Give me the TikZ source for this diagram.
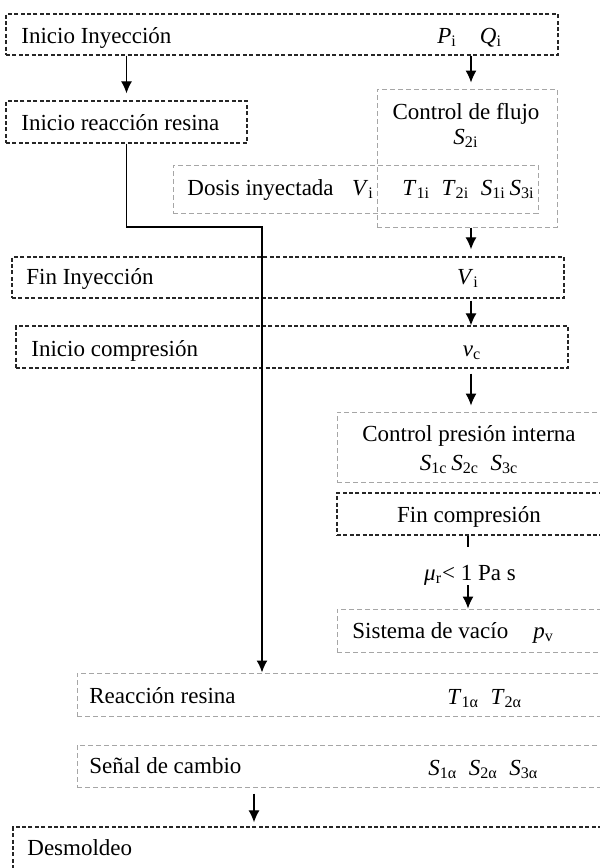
\documentclass[tikz,border=0pt]{standalone}
\usepackage{fontspec}
\setmainfont{Liberation Serif}
\usetikzlibrary{arrows.meta,fit,positioning}
\newcommand{\sym}[2]{\textit{#1}\textsubscript{#2}}
\begin{document}
\begin{tikzpicture}[x=0.5pt,y=-0.5pt,
    darkbox/.style={draw=black!85,line width=0.65pt,dash pattern=on 2pt off 1.2pt,inner sep=0pt},
    greybox/.style={draw=black!35,line width=0.5pt,dash pattern=on 2.5pt off 1.5pt,inner sep=0pt},
    txt/.style={inner sep=0pt,font=\fontsize{11.5}{13}\selectfont},
    arr/.style={-{Latex[length=6pt,width=5.5pt]},line width=0.6pt}]
  \useasboundingbox (0,0) rectangle (600,868);
  \clip (0,0) rectangle (600,868);
  \node[darkbox,fit={(6,14)(558,55)}] (iniiny) {};
  \node[darkbox,fit={(6,101)(247,143)}] (inireac) {};
  \node[greybox,fit={(377,89)(557,227)}] (flujo) {};
  \node[greybox,fit={(173,165)(538,213)}] (dosis) {};
  \node[darkbox,fit={(12,257)(564,298)}] (fininy) {};
  \node[darkbox,fit={(16,326)(568,368)}] (inicomp) {};
  \node[greybox,fit={(337,412)(612,482)}] (presion) {};
  \node[darkbox,fit={(337,493)(612,535)}] (fincomp) {};
  \node[greybox,fit={(337,609)(612,652)}] (vacio) {};
  \node[greybox,fit={(77,673)(612,716)}] (reac) {};
  \node[greybox,fit={(77,745)(612,787)}] (senal) {};
  \node[darkbox,fit={(13,827)(612,890)}] (desm) {};
  \node[txt,anchor=base west] (tIniIny) at (21,43) {Inicio Inyección};
  \node[txt,anchor=base west] (tPQ) at (437,43) {\sym{P}{i}\quad\sym{Q}{i}};
  \node[txt,anchor=base west] (tIniReac) at (21,130) {Inicio reacción resina};
  \node[txt,anchor=base] (tFlujo) at (466,119) {Control de flujo};
  \node[txt,anchor=base] (tS2i) at (466,144) {\sym{S}{2i}};
  \node[txt,anchor=base west] (tDosis) at (187,195) {Dosis inyectada\hspace{0.8em}\sym{V}{i}};
  \node[txt,anchor=base west] (tTSi) at (402,195) {\sym{T}{1i}\enspace\sym{T}{2i}\enspace\sym{S}{1i}\,\sym{S}{3i}};
  \node[txt,anchor=base west] (tFinIny) at (26,284) {Fin Inyección};
  \node[txt,anchor=base] (tVi) at (468,284) {\sym{V}{i}};
  \node[txt,anchor=base west] (tIniComp) at (31,356) {Inicio compresión};
  \node[txt,anchor=base] (tvc) at (472,356) {\sym{v}{c}};
  \node[txt,anchor=base] (tPres) at (469,441) {Control presión interna};
  \node[txt,anchor=base] (tSc) at (469,470) {\sym{S}{1c}\,\sym{S}{2c}\enspace\sym{S}{3c}};
  \node[txt,anchor=base] (tFinComp) at (469,522) {Fin compresión};
  \node[txt,anchor=base] (tMu) at (470,580) {\sym{μ}{r}< 1 Pa s};
  \node[txt,anchor=base west] (tVacio) at (352,638) {Sistema de vacío};
  \node[txt,anchor=base west] (tpv) at (533,638) {\sym{p}{v}};
  \node[txt,anchor=base west] (tReac) at (89,703) {Reacción resina};
  \node[txt,anchor=base west] (tTa) at (447,704) {\sym{T}{1α}\enspace\sym{T}{2α}};
  \node[txt,anchor=base west] (tSenal) at (89,773) {Señal de cambio};
  \node[txt,anchor=base west] (tSa) at (428,775) {\sym{S}{1α}\enspace\sym{S}{2α}\enspace\sym{S}{3α}};
  \node[txt,anchor=base west] (tDesm) at (27,855) {Desmoldeo};
  \coordinate (colR) at (471,0);
  \coordinate (colM) at (468,0);
  \coordinate (colD) at (254,0);
  \coordinate (tick) at (468,547);
  \coordinate (bend) at (262,227);
  \draw[arr,shorten >=3.5pt] (iniiny.south -| inireac.north) -- (inireac.north);
  \draw[arr,shorten >=3pt] (iniiny.south -| colR) -- (flujo.north -| colR);
  \draw[arr,shorten >=3.5pt] (flujo.south -| colR) -- (fininy.north -| colR);
  \draw[arr,shorten <=1pt] (fininy.south -| colR) -- (inicomp.north -| colR);
  \draw[arr,shorten <=2.5pt,shorten >=3pt] (inicomp.south -| colR) -- (presion.north -| colR);
  \draw[line width=0.6pt] (fincomp.south -| tick) -- (tick);
  \draw[arr] (tMu.south -| colM) -- (vacio.north -| colM);
  \draw[arr,line width=0.75pt] (inireac.south) |- (bend) -- (bend |- reac.north);
  \draw[arr,shorten <=3pt,shorten >=2pt] (senal.south -| colD) -- (desm.north -| colD);
\end{tikzpicture}
\end{document}
